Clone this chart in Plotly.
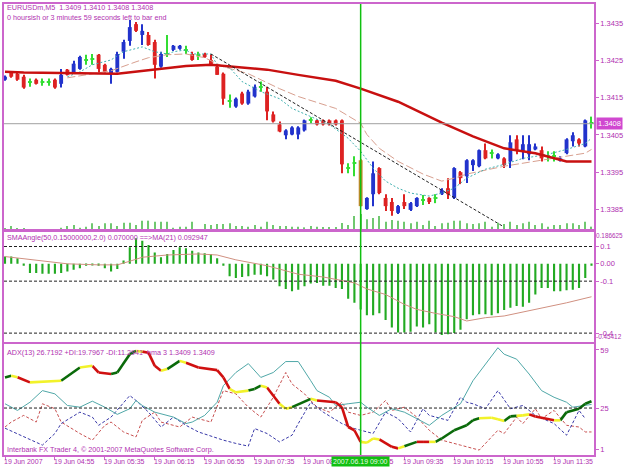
import plotly.graph_objects as go

# ---------------- data ----------------
bars = list(range(95))
opens = [1.34198,1.34217,1.34214,1.34206,1.34193,1.34198,1.34193,1.34193,1.34198,1.34187,
         1.34225,1.34217,1.34227,1.34251,1.34254,1.34265,1.34238,1.34214,1.34219,1.34273,
         1.34302,1.34347,1.34318,1.34318,1.34299,1.34233,1.34267,1.34278,1.34281,1.34278,
         1.34267,1.34265,1.34267,1.34251,1.34233,1.34214,1.34142,1.34126,1.34161,1.34134,
         1.34153,1.34179,1.34166,1.34105,1.34078,1.34049,1.34051,1.34051,1.34062,1.34089,
         1.34089,1.34089,1.34089,1.34089,1.34089,1.33961,1.33974,1.33982,1.33851,1.33891,
         1.33961,1.33881,1.33870,1.33841,1.33870,1.33849,1.33859,1.33875,1.33881,1.33881,
         1.33891,1.33907,1.33881,1.33950,1.33939,1.33969,1.33966,1.34009,1.34001,1.33987,
         1.33987,1.33979,1.34038,1.34006,1.33998,1.34011,1.34009,1.33993,1.33993,1.33982,
         1.34001,1.34033,1.34038,1.34019,1.34081]
highs = [1.34209,1.34219,1.34217,1.34211,1.34201,1.34201,1.34201,1.34201,1.34201,1.34227,
         1.34227,1.34249,1.34262,1.34265,1.34267,1.34267,1.34241,1.34230,1.34273,1.34305,
         1.34358,1.34353,1.34347,1.34326,1.34305,1.34273,1.34318,1.34291,1.34291,1.34289,
         1.34273,1.34273,1.34270,1.34267,1.34235,1.34217,1.34158,1.34150,1.34166,1.34171,
         1.34185,1.34193,1.34179,1.34113,1.34086,1.34065,1.34073,1.34073,1.34091,1.34097,
         1.34091,1.34091,1.34091,1.34091,1.34091,1.33974,1.33993,1.33985,1.33883,1.33979,
         1.33963,1.33891,1.33881,1.33862,1.33891,1.33870,1.33883,1.33889,1.33883,1.33891,
         1.33907,1.33934,1.33963,1.33953,1.33985,1.33985,1.34011,1.34027,1.34011,1.34001,
         1.33990,1.34049,1.34049,1.34049,1.34049,1.34027,1.34019,1.34006,1.34006,1.33993,
         1.34041,1.34057,1.34041,1.34091,1.34099]
lows = [1.34195,1.34203,1.34195,1.34174,1.34179,1.34185,1.34182,1.34182,1.34174,1.34177,
        1.34209,1.34214,1.34225,1.34238,1.34238,1.34217,1.34217,1.34187,1.34217,1.34254,
        1.34289,1.34326,1.34291,1.34289,1.34201,1.34230,1.34259,1.34275,1.34278,1.34267,
        1.34249,1.34251,1.34257,1.34235,1.34211,1.34131,1.34123,1.34123,1.34131,1.34131,
        1.34150,1.34166,1.34089,1.34083,1.34057,1.34038,1.34049,1.34038,1.34059,1.34081,
        1.34075,1.34075,1.34075,1.34075,1.33947,1.33947,1.33939,1.33859,1.33849,1.33859,
        1.33891,1.33846,1.33833,1.33838,1.33851,1.33846,1.33857,1.33862,1.33865,1.33867,
        1.33889,1.33878,1.33878,1.33918,1.33921,1.33953,1.33963,1.33985,1.33987,1.33985,
        1.33961,1.33961,1.33998,1.33985,1.33982,1.34009,1.33979,1.33979,1.33979,1.33979,
        1.33998,1.34019,1.34019,1.34017,1.34067]
closes = [1.34206,1.34206,1.34198,1.34177,1.34193,1.34187,1.34193,1.34193,1.34177,1.34211,
          1.34211,1.34241,1.34259,1.34251,1.34254,1.34227,1.34219,1.34227,1.34267,1.34299,
          1.34339,1.34329,1.34329,1.34291,1.34238,1.34267,1.34267,1.34289,1.34289,1.34278,
          1.34251,1.34265,1.34259,1.34238,1.34211,1.34147,1.34142,1.34147,1.34134,1.34166,
          1.34179,1.34179,1.34113,1.34086,1.34059,1.34062,1.34070,1.34070,1.34089,1.34089,
          1.34078,1.34078,1.34078,1.34078,1.33971,1.33961,1.33974,1.33859,1.33881,1.33947,
          1.33894,1.33859,1.33846,1.33859,1.33859,1.33867,1.33881,1.33875,1.33870,1.33881,
          1.33902,1.33891,1.33961,1.33934,1.33982,1.33982,1.34009,1.33987,1.34001,1.33998,
          1.33969,1.34030,1.34009,1.34025,1.34025,1.34019,1.33987,1.33993,1.33993,1.33987,
          1.34038,1.34049,1.34027,1.34089,1.34081]
selected_bar = 57
volumes = [6,12,5,5,2,2,2,2,2,7,12,15,7,10,20,12,20,20,12,22,22,15,28,28,25,25,25,7,10,10,
           25,2,18,15,18,18,20,12,12,10,15,10,25,15,12,12,10,10,8,12,10,9,9,9,21,15,42,48,32,36,
           42,25,30,28,25,20,25,15,28,12,20,22,28,28,20,18,20,25,10,22,18,25,15,20,25,15,20,10,15,15,
           20,20,15,25,10]

ma_red_bars = [0,3,18,24,29,33,37,42,47,51,53,57,63,65,69,70,75,80,85,89,90,94]
ma_red = [1.34219,1.34217,1.34214,1.34225,1.34235,1.34238,1.34233,1.34225,1.34211,1.34201,1.34195,
          1.34174,1.34139,1.34123,1.34091,1.34083,1.34046,1.34014,1.34001,1.33985,1.33979,1.33979]
ma_pink_bars = [10,17,21,23,26,29,32,35,39,44,47,53,57,58,60,63,67,70,72,74,80,85,90,93,94]
ma_pink = [1.34203,1.34222,1.34246,1.34257,1.34265,1.34267,1.34257,1.34233,1.34214,1.34174,1.34153,
           1.34121,1.34081,1.34051,1.34014,1.33979,1.33945,1.33926,1.33934,1.33945,1.33966,1.33979,
           1.33993,1.34001,1.34011]
ma_cyan_bars = [10,12,14,17,19,21,22,24,26,27,29,30,33,34,36,38,41,44,46,49,52,55,57,59,61,63,65,
                68,70,72,74,77,80,83,87,90,93,94]
ma_cyan = [1.34206,1.34219,1.34238,1.34251,1.34273,1.34281,1.34286,1.34273,1.34267,1.34273,1.34278,
           1.34267,1.34267,1.34238,1.34230,1.34193,1.34166,1.34147,1.34121,1.34099,1.34078,1.34041,
           1.34006,1.33961,1.33926,1.33907,1.33894,1.33886,1.33894,1.33907,1.33934,1.33958,1.33971,
           1.33987,1.33998,1.34011,1.34027,1.34041]
trend_bars = [33, 80]
trend_prices = [1.34267, 1.33803]
bid_price = 1.3408
price_ticks = [1.3435, 1.3425, 1.3415, 1.3405, 1.3395, 1.3385]

angle = [0.042,0.042,0.032,-0.011,-0.053,-0.053,-0.057,-0.057,-0.057,-0.053,
         -0.044,-0.034,-0.025,-0.011,-0.008,-0.011,-0.025,-0.044,-0.030,0.019,
         0.095,0.147,0.133,0.109,0.065,0.038,0.057,0.080,0.095,0.090,
         0.076,0.065,0.061,0.057,0.032,-0.011,-0.072,-0.082,-0.076,-0.072,
         -0.063,-0.063,-0.072,-0.091,-0.130,-0.145,-0.158,-0.149,-0.130,-0.114,
         -0.110,-0.126,-0.126,-0.139,-0.145,-0.202,-0.225,-0.263,-0.297,-0.297,
         -0.286,-0.324,-0.368,-0.396,-0.396,-0.392,-0.362,-0.368,-0.349,-0.396,
         -0.411,-0.406,-0.400,-0.381,-0.320,-0.297,-0.291,-0.291,-0.297,-0.286,
         -0.267,-0.253,-0.244,-0.248,-0.225,-0.177,-0.139,-0.139,-0.158,-0.158,
         -0.152,-0.149,-0.139,-0.082,-0.011]
angle_ma_bars = [0,5,10,15,18,20,22,26,31,34,37,42,47,51,53,56,58,61,64,66,69,72,74,77,80,82,85,88,90,94]
angle_ma = [0.042,0.023,0.0,-0.006,-0.006,0.015,0.038,0.051,0.057,0.051,0.023,-0.011,-0.060,-0.076,
            -0.091,-0.110,-0.145,-0.177,-0.234,-0.263,-0.286,-0.305,-0.330,-0.311,-0.301,-0.286,
            -0.263,-0.240,-0.225,-0.190]
angle_levels = [0.1, -0.1, -0.4]

adx_bars = [0,1,2,4,9,12,14,15,17,18,20,21,22,23,24,25,26,28,29,31,34,35,36,37,39,40,41,42,44,45,
            46,49,50,53,54,55,56,57,58,59,60,62,63,64,66,67,68,69,70,72,74,75,76,78,79,80,81,82,83,84,
            85,88,89,90,92,93,94]
adx = [42.9,43.9,43.0,40.0,41.0,48.7,49.7,45.8,44.9,45.8,56.5,58.4,58.0,57.4,49.7,46.8,47.8,52.6,51.5,48.7,
       47.2,42.9,36.2,34.2,35.2,36.2,38.1,37.0,27.5,24.6,25.5,30.4,29.4,28.4,25.5,13.9,12.0,5.2,4.7,7.2,
       6.6,2.3,1.4,2.7,5.2,5.2,5.2,5.2,7.2,12.0,14.9,17.8,19.0,19.3,18.5,17.4,20.1,20.4,20.7,21.3,
       20.1,17.8,17.8,22.6,24.6,27.5,29.0]
adx_state = ['', 'g','y','r','y','g','y','r','r','g','g','g','y','r','r','r','y','g','y','r',
             'r','r','r','y','y','g','g','y','r','y','y','g','y','r','r','r','r','r','y','y',
             'y','r','r','y','g','r','r','y','g','g','g','g','g','y','y','y','g','g','y','y',
             'r','r','y','g','g','g','g']
pdi_bars = [0,2,4,6,8,10,12,14,16,18,20,21,22,24,27,29,30,32,34,35,37,39,41,43,45,47,49,50,52,53,
            55,57,58,60,62,64,66,68,70,73,75,77,79,80,82,84,86,88,90,91,93,94]
pdi = [27.5,23.6,28.4,35.2,33.3,26.5,25.5,29.0,25.5,21.3,24.6,29.4,26.5,22.6,19.7,15.9,16.8,20.7,28.4,38.1,
       45.8,51.0,42.9,45.8,52.2,52.2,41.0,35.2,31.3,26.5,27.5,28.4,25.5,20.7,24.6,22.6,18.8,14.9,20.7,27.5,
       41.0,50.7,60.3,56.5,53.6,44.9,35.2,31.3,28.4,25.5,26.5,27.1]
mdi_bars = [0,1,3,5,6,8,9,12,14,16,17,19,21,22,24,25,28,30,32,33,35,37,39,41,43,45,46,48,50,52,
            54,55,57,59,61,62,64,66,68,70,73,76,79,80,82,83,85,86,88,90,92,93,94]
mdi = [13.9,16.8,20.7,16.8,27.5,24.6,16.8,10.1,6.2,14.9,16.8,11.0,8.1,17.8,22.6,16.8,13.9,19.7,17.8,16.8,
       35.2,33.3,25.5,19.7,31.3,45.8,39.1,33.3,25.5,22.6,28.4,22.6,20.7,22.6,29.4,23.6,25.5,19.7,12.0,6.2,
       3.3,0.4,12.0,10.1,19.7,15.9,24.6,18.8,23.6,14.9,13.9,11.0,11.0]
bdi_bars = [0,3,6,8,9,12,14,15,17,20,21,23,25,27,29,31,35,37,39,40,42,44,46,47,49,51,54,56,57,59,
            61,63,65,67,68,71,73,74,75,77,79,81,83,85,88,90,92,93]
bdi = [13.2,8.1,3.3,10.1,15.9,22.6,19.7,14.9,19.7,32.3,29.4,22.6,13.9,19.7,14.9,11.0,6.2,4.3,2.7,13.0,
       10.1,5.2,9.1,15.9,28.4,22.6,15.9,13.0,12.0,10.1,22.6,18.8,11.0,24.6,20.7,17.8,31.3,28.4,27.5,24.6,
       35.2,24.6,26.5,20.7,15.9,9.1,23.6,18.8]
adx_level = 25
adx_ticks = [59, 25, 1]

label_bars = [0, 8, 16, 24, 32, 40, 48, 56, 64, 72, 80, 88]
label_texts = ["19 Jun 2007", "19 Jun 04:55", "19 Jun 05:35", "19 Jun 06:15", "19 Jun 06:55",
               "19 Jun 07:35", "19 Jun 08:15", "19 Jun 08:55", "19 Jun 09:35", "19 Jun 10:15",
               "19 Jun 10:55", "19 Jun 11:35"]

# ---------------- style ----------------
FONT = "Liberation Sans"
TXT = "#B030B0"
FRAME = "#CC66CC"
BULL, BEAR, DOJI, SELC = "#2233CC", "#DD2222", "#33DD33", "#C8862A"

H, W = 469, 625
top_px, bot_px = 2, 455
def frac(py):
    return (bot_px - py) / (bot_px - top_px)

def ccol(i):
    if i == selected_bar:
        return SELC
    if closes[i] > opens[i]:
        return BULL
    if closes[i] < opens[i]:
        return BEAR
    return DOJI

cols = [ccol(i) for i in bars]
body_base = [min(o, c) if o != c else o - 0.000014 for o, c in zip(opens, closes)]
body_h = [abs(c - o) if o != c else 0.000028 for o, c in zip(opens, closes)]

fig = go.Figure()

# candles
fig.add_trace(go.Bar(x=bars, y=[h - l for h, l in zip(highs, lows)], base=lows, width=0.17,
                     marker=dict(color=cols, line_width=0), xaxis="x", yaxis="y"))
fig.add_trace(go.Bar(x=bars, y=body_h, base=body_base, width=0.62,
                     marker=dict(color=cols, line_width=0), xaxis="x", yaxis="y"))
# moving averages
fig.add_trace(go.Scatter(x=ma_pink_bars, y=ma_pink, mode="lines",
                         line=dict(color="#D8A090", width=1, dash="8px,3px"), xaxis="x", yaxis="y"))
fig.add_trace(go.Scatter(x=ma_cyan_bars, y=ma_cyan, mode="lines",
                         line=dict(color="#40B0B0", width=1, dash="2px,2px"), xaxis="x", yaxis="y"))
fig.add_trace(go.Scatter(x=ma_red_bars, y=ma_red, mode="lines",
                         line=dict(color="#C81010", width=2.5), xaxis="x", yaxis="y"))
fig.add_trace(go.Scatter(x=trend_bars, y=trend_prices, mode="lines",
                         line=dict(color="#202020", width=1, dash="3px,2px"), xaxis="x", yaxis="y"))
# volume
fig.add_trace(go.Bar(x=bars, y=volumes, width=0.17, marker=dict(color="#70C870", line_width=0),
                     xaxis="x", yaxis="y4"))

# SMAAngle histogram
fig.add_trace(go.Bar(x=bars, y=angle, width=0.34, marker=dict(color="#22AA22", line_width=0),
                     xaxis="x2", yaxis="y2"))
fig.add_trace(go.Scatter(x=angle_ma_bars, y=angle_ma, mode="lines",
                         line=dict(color="#D09080", width=1), xaxis="x2", yaxis="y2"))

# ADX panel
fig.add_trace(go.Scatter(x=mdi_bars, y=mdi, mode="lines",
                         line=dict(color="#C85050", width=1, dash="3px,2px"), xaxis="x3", yaxis="y3"))
fig.add_trace(go.Scatter(x=bdi_bars, y=bdi, mode="lines",
                         line=dict(color="#3838A8", width=1, dash="3px,2px"), xaxis="x3", yaxis="y3"))
fig.add_trace(go.Scatter(x=pdi_bars, y=pdi, mode="lines",
                         line=dict(color="#50A8A8", width=1), xaxis="x3", yaxis="y3"))
state_col = {"g": "#0A6A0A", "r": "#D01010", "y": "#F2F22A"}
for st, colr in state_col.items():
    xs, ys = [], []
    for k in range(1, len(adx_bars)):
        if adx_state[k] == st:
            xs += [adx_bars[k - 1], adx_bars[k], None]
            ys += [adx[k - 1], adx[k], None]
    fig.add_trace(go.Scatter(x=xs, y=ys, mode="lines", line=dict(color=colr, width=2.6),
                             xaxis="x3", yaxis="y3", connectgaps=False))

xr = [-0.16, 94.4]
axcommon = dict(range=xr, showgrid=False, zeroline=False, showline=True, mirror=True,
                linecolor=FRAME, linewidth=1.5, showticklabels=False, ticks="")
ycommon = dict(showgrid=False, zeroline=False, showline=True, mirror=True, linecolor=FRAME,
               linewidth=1.5, side="right", ticks="outside", ticklen=3, tickcolor=FRAME,
               tickfont=dict(family=FONT, size=7.5, color=TXT), fixedrange=True)

fig.update_layout(
    width=W, height=H, margin=dict(l=3, r=31, t=2, b=14),
    paper_bgcolor="white", plot_bgcolor="white", showlegend=False, barmode="overlay",
    xaxis=dict(anchor="y", **axcommon),
    xaxis2=dict(anchor="y2", matches="x", **axcommon),
    xaxis3=dict(anchor="y3", matches="x", **{**axcommon, "ticks": "outside", "ticklen": 3,
                "tickcolor": FRAME, "tickvals": label_bars}),
    yaxis=dict(anchor="x", domain=[frac(229), 1.0], range=[1.33795, 1.34401],
               tickvals=price_ticks, ticktext=[f"{v:.4f}" for v in price_ticks], **ycommon),
    yaxis2=dict(anchor="x2", domain=[frac(342), frac(230.5)], range=[-0.45412, 0.186625],
                tickvals=[0.1, 0.0, -0.1, -0.4], ticktext=["0.1", "0.00", "-0.1", "-0.4"], **ycommon),
    yaxis3=dict(anchor="x3", domain=[0.0, frac(343.5)], range=[-2.48, 62.48],
                tickvals=adx_ticks, ticktext=[str(v) for v in adx_ticks], **ycommon),
    yaxis4=dict(overlaying="y", range=[0, 678], visible=False, fixedrange=True),
)

shapes = []
shapes.append(dict(type="line", xref="paper", x0=0, x1=1, yref="y", y0=bid_price, y1=bid_price,
                   line=dict(color="#A0A0A0", width=1)))
for lv in angle_levels:
    shapes.append(dict(type="line", xref="paper", x0=0, x1=1, yref="y2", y0=lv, y1=lv,
                       line=dict(color="#202020", width=1, dash="3px,2px")))
shapes.append(dict(type="line", xref="paper", x0=0, x1=1, yref="y3", y0=adx_level, y1=adx_level,
                   line=dict(color="#202020", width=1, dash="3px,2px")))
shapes.append(dict(type="line", xref="x", x0=selected_bar, x1=selected_bar, yref="paper", y0=0, y1=1,
                   line=dict(color="#10C010", width=1.5)))
fig.update_layout(shapes=shapes)

ann = []
def txt(x_px, y_px, s, size=7.2, **kw):
    ann.append(dict(xref="paper", yref="paper", x=(x_px - 3) / 591, y=frac(y_px), text=s,
                    showarrow=False, xanchor="left", yanchor="middle",
                    font=dict(family=FONT, size=size, color=TXT), **kw))

txt(4, 6, "EURUSDm,M5  1.3409 1.3410 1.3408 1.3408")
txt(4, 16, "0 hoursish or 3 minutes 59 seconds left to bar end")
txt(4, 237, "SMAAngle(50,0.15000000,2.0) 0.070000 ==>MA(21) 0.092947")
txt(4, 352, "ADX(13) 26.7192 +DI:19.7967 -DI:11.2941  hma 3 1.3409 1.3409")
txt(4, 449, "Interbank FX Trader 4, © 2001-2007 MetaQuotes Software Corp.")
txt(594, 235, "0.186625", size=6.4)
txt(594, 336, "-0.45412", size=6.4)

for b, s in zip(label_bars, label_texts):
    ann.append(dict(xref="x", yref="paper", x=b, y=frac(461.5), text=s, showarrow=False,
                    xanchor="left", yanchor="middle", xshift=-3,
                    font=dict(family=FONT, size=7, color=TXT)))
ann.append(dict(xref="x", yref="paper", x=selected_bar, y=frac(461.5), text="2007.06.19 09:00",
                showarrow=False, xanchor="center", yanchor="middle", bgcolor="#10C010",
                borderpad=1, font=dict(family=FONT, size=7, color="#E8F8E8")))
ann.append(dict(xref="paper", yref="y", x=1.0, y=bid_price, text="1.3408", showarrow=False,
                xanchor="left", yanchor="middle", xshift=2, bgcolor="#D048D0", borderpad=1,
                font=dict(family=FONT, size=7.5, color="white")))
fig.update_layout(annotations=ann)

fig.write_html("out.html")
